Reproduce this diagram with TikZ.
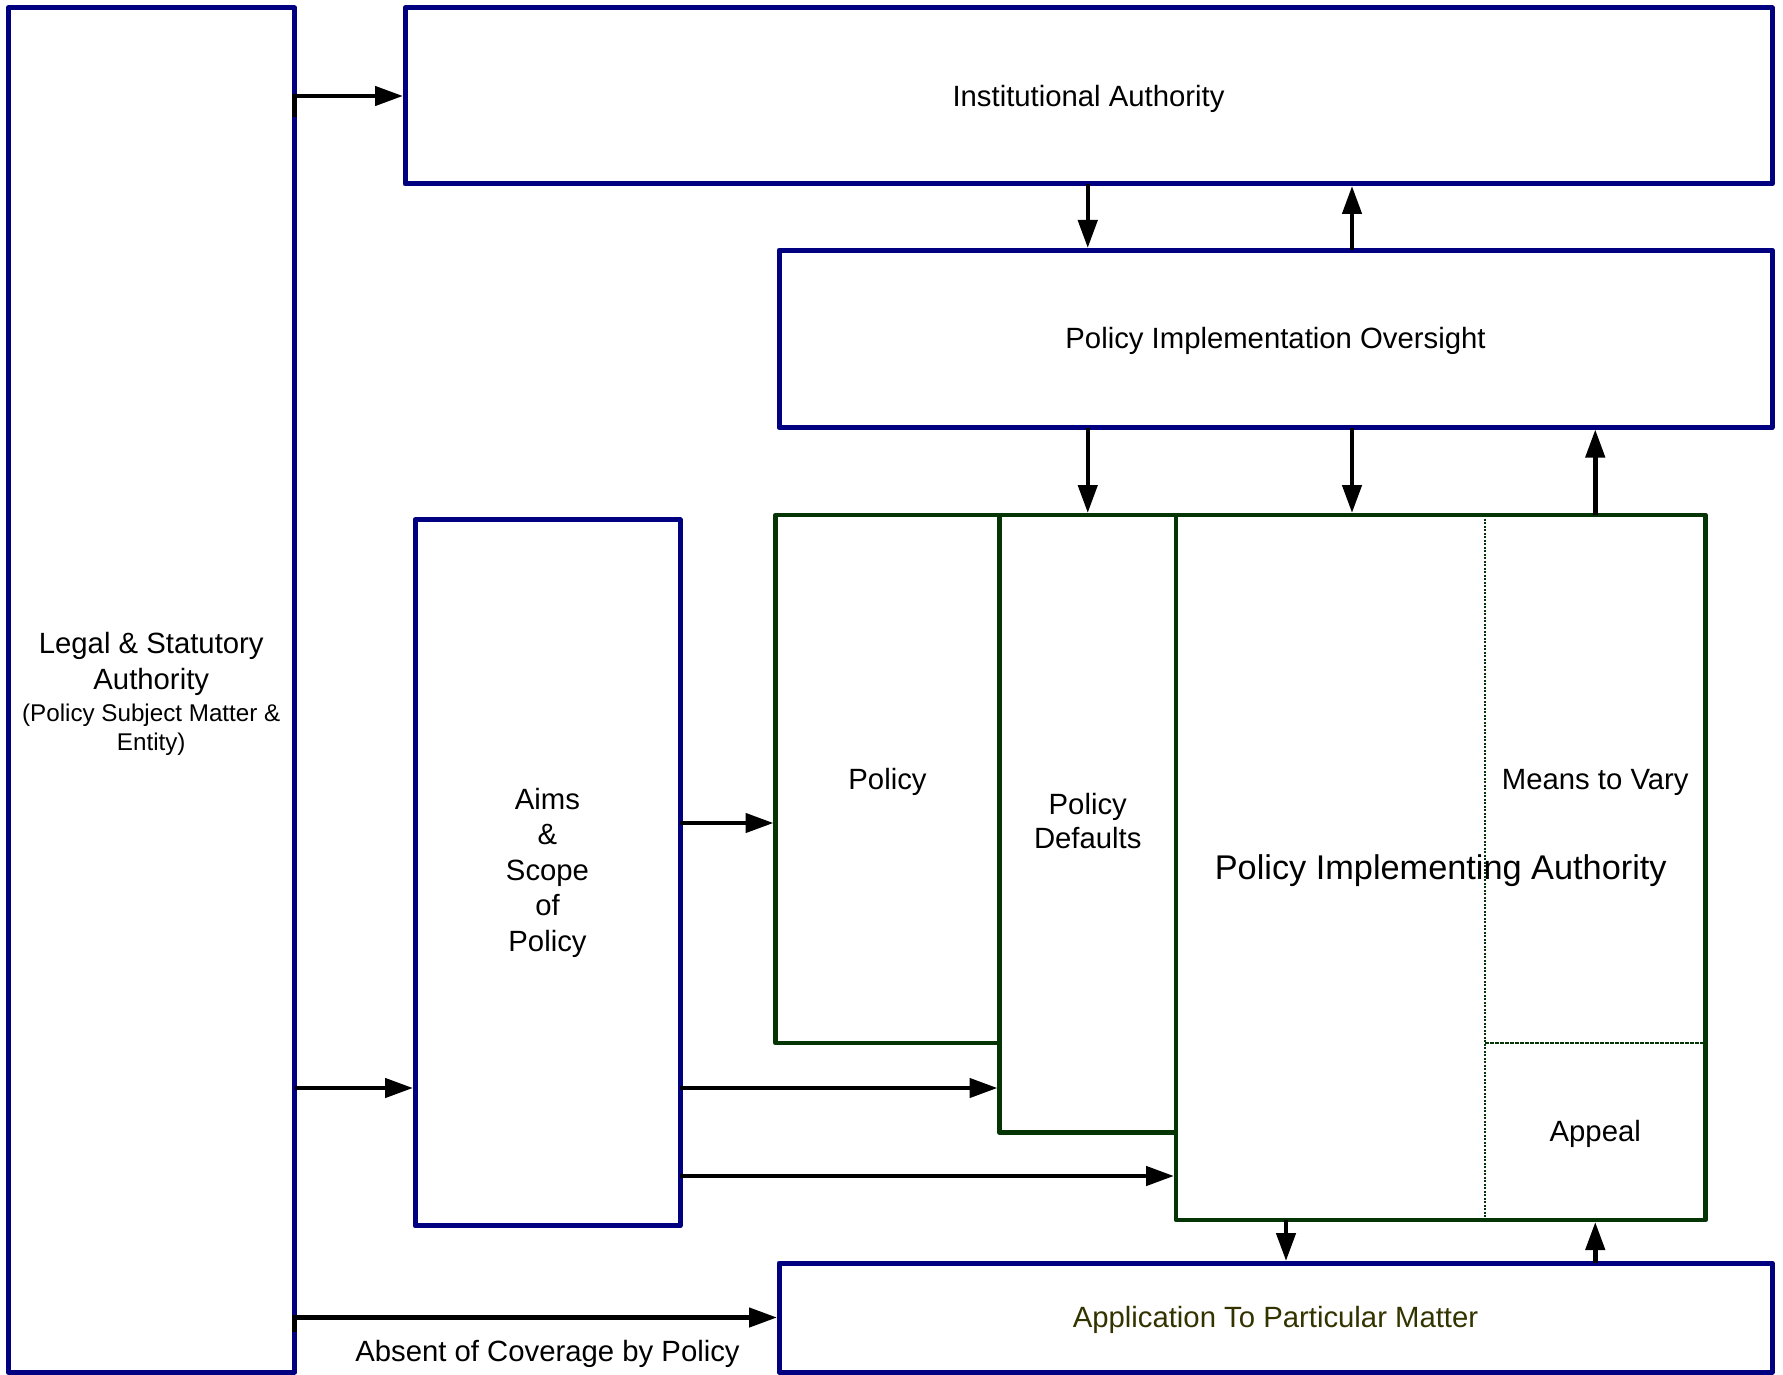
\documentclass[tikz,border=0pt]{standalone}
\usepackage{fontspec}
\setmainfont{Liberation Sans}
\usetikzlibrary{arrows.meta}
% all sizes keep one line distance, so extra space after \\ is exact
\newcommand\boxfont{\fontsize{29.3}{35.5}\selectfont}
\newcommand\bigboxfont{\fontsize{34.3}{35.5}\selectfont}
\newcommand\smallboxfont{\fontsize{24.2}{35.5}\selectfont}
% strut spanning the full ascent and descent of the font
\newcommand\fstrut{\rule[-0.212em]{0pt}{1.117em}}
\definecolor{navyline}{RGB}{0,0,128}
\definecolor{greenline}{RGB}{5,52,5}
\definecolor{olivetext}{RGB}{51,51,0}
\tikzset{
  box/.style={rectangle, draw, inner sep=0pt, outer sep=0pt, line join=round,
    font=\boxfont, align=center,
    execute at begin node=\fstrut, execute at end node=\fstrut},
  bluebox/.style={box, draw=navyline, line width=5pt},
  greenbox/.style={box, draw=greenline, line width=4.5pt},
  region/.style={rectangle, inner sep=0pt, outer sep=0pt, font=\boxfont, align=center,
    execute at begin node=\fstrut, execute at end node=\fstrut},
  arr/.style={draw=black, line width=4.5pt, -{Triangle[length=28pt,width=19pt]}, shorten >=2pt},
}
\begin{document}
\begin{tikzpicture}[x=1pt, y=-1pt]
\useasboundingbox (0,0) rectangle (1783,1375);

% authorities
\node[bluebox, minimum width=286.5, minimum height=1364] (legal) at (151.25,690)
  {\rule{0pt}{29.5pt}Legal \& Statutory\\[1.3pt]Authority\\[-3.5pt]\smallboxfont (Policy Subject Matter \&\\[-7pt]\smallboxfont Entity)};
\node[bluebox, minimum width=1367, minimum height=176] (ia) at (1088.5,96) {Institutional Authority};
\node[bluebox, minimum width=993, minimum height=177.5] (pio) at (1275.5,338.75) {Policy Implementation Oversight};
\node[bluebox, minimum width=265, minimum height=706] (aims) at (547.5,872.8) {Aims\\\&\\Scope\\of\\Policy};
\node[bluebox, minimum width=993, minimum height=109, text=olivetext] (app) at (1275.5,1317.5) {Application To Particular Matter};

% policy blocks
\node[greenbox, minimum width=224, minimum height=528] (policy) at (887.5,779) {Policy};
\node[greenbox, minimum width=176.5, minimum height=617.5] (pd) at (1087.75,823.75) {Policy\\[-1pt]Defaults};
\node[greenbox, minimum width=529.5, minimum height=705, font=\bigboxfont] (pia) at (1440.75,867.5) {Policy Implementing Authority};
\node[region, minimum width=220.5, minimum height=528] (mtv) at (1595.25,779) {Means to Vary};
\node[region, minimum width=220.5, minimum height=177] (appeal) at (1595.25,1131.5) {Appeal};
\draw[greenline, line width=1.5pt, dash pattern=on 2pt off 1.5pt] (mtv.north west) -- (appeal.south west);
\draw[greenline, line width=2.5pt, dash pattern=on 4pt off 1pt] (mtv.south west) -- (mtv.south east);

% helper positions for connectors
\coordinate (c2) at (1352,0);
\coordinate (c4) at (1286,0);
\coordinate (s1) at (0,117);
\coordinate (s2) at (0,1332);
\coordinate (r0) at (0,823);
\coordinate (r1) at (0,1088);
\coordinate (r2) at (0,1176);

% connectors
\draw[arr] (legal.east |- s1) |- (ia.west);
\draw[arr] (ia.south -| pd.north) -- (pio.north -| pd.north);
\draw[arr] (pio.north -| c2) -- (ia.south -| c2);
\draw[arr] (pio.south -| pd.north) -- (pd.north);
\draw[arr] (pio.south -| c2) -- (pia.north -| c2);
\draw[arr] (mtv.north) -- (pio.south -| mtv.north);
\draw[arr] (aims.east |- r0) -- (policy.west |- r0);
\draw[arr] (legal.east |- r1) -- (aims.west |- r1);
\draw[arr] (aims.east |- r1) -- (pd.west |- r1);
\draw[arr] (aims.east |- r2) -- (pia.west |- r2);
\draw[arr] (pia.south -| c4) -- (app.north -| c4);
\draw[arr] (app.north -| mtv.north) -- (pia.south -| mtv.north);
\draw[arr] (legal.east |- s2) |- (app.west);
\node[region] (absent) at (547.5,1351) {Absent of Coverage by Policy};
\end{tikzpicture}
\end{document}
